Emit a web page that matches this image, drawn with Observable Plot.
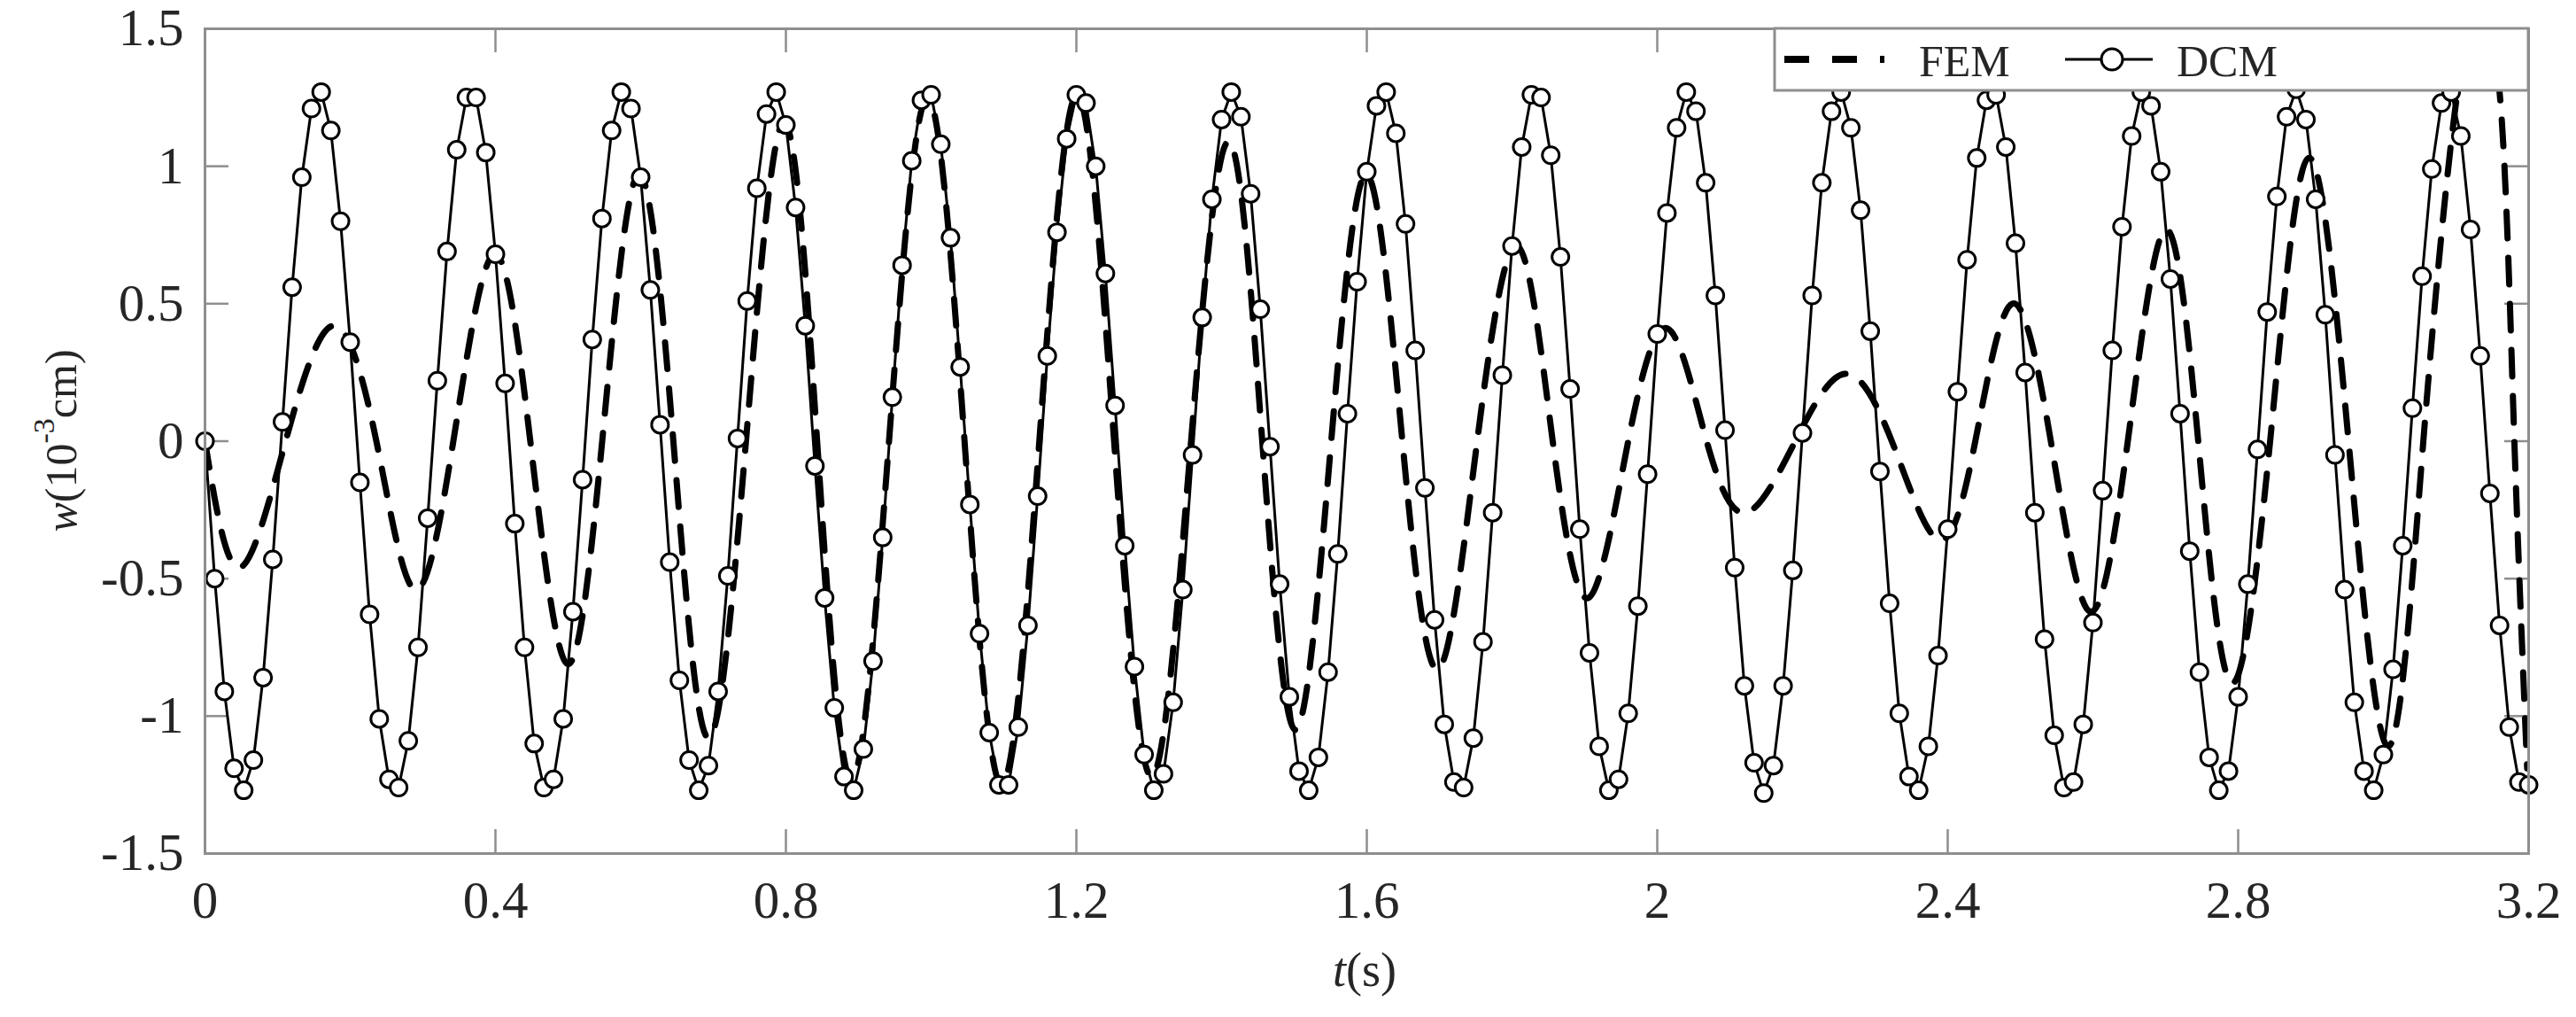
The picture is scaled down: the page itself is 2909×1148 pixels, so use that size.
<!DOCTYPE html>
<html>
<head>
<meta charset="utf-8">
<script src="https://cdn.jsdelivr.net/npm/d3@7"></script>
<script src="https://cdn.jsdelivr.net/npm/@observablehq/plot@0.6"></script>
<style>
  html, body { margin: 0; padding: 0; background: #fff; }
  #chart { width: 2909px; height: 1148px; }
</style>
</head>
<body>
<div id="chart"></div>
<script>
// ---- Data ----
const xTicks = [0, 0.4, 0.8, 1.2, 1.6, 2, 2.4, 2.8, 3.2];
const yTicks = [-1.5, -1, -0.5, 0, 0.5, 1, 1.5];

// DCM: markers every 0.01333 s (241 samples from 0 to 3.2 s)
const dcmStep = 0.0133333;
const dcmW = [
  0, -0.50, -0.91, -1.19, -1.27, -1.16, -0.86, -0.43, 0.07, 0.56, 0.96, 1.21, 1.27, 1.13, 0.80, 0.36,
  -0.15, -0.63, -1.01, -1.23, -1.26, -1.09, -0.75, -0.28, 0.22, 0.69, 1.06, 1.25, 1.25, 1.05, 0.68, 0.21,
  -0.30, -0.75, -1.10, -1.26, -1.23, -1.01, -0.62, -0.14, 0.37, 0.81, 1.13, 1.27, 1.21, 0.96, 0.55, 0.06,
  -0.44, -0.87, -1.16, -1.27, -1.18, -0.91, -0.49, 0.01, 0.51, 0.92, 1.19, 1.27, 1.15, 0.85, 0.42, -0.09,
  -0.57, -0.97, -1.22, -1.27, -1.12, -0.80, -0.35, 0.16, 0.64, 1.02, 1.24, 1.26, 1.08, 0.74, 0.27, -0.23,
  -0.70, -1.06, -1.25, -1.25, -1.04, -0.67, -0.20, 0.31, 0.76, 1.10, 1.26, 1.23, 1.00, 0.61, 0.13, -0.38,
  -0.82, -1.14, -1.27, -1.21, -0.95, -0.54, -0.05, 0.45, 0.88, 1.17, 1.27, 1.18, 0.90, 0.48, -0.02, -0.52,
  -0.93, -1.20, -1.27, -1.15, -0.84, -0.41, 0.10, 0.58, 0.98, 1.22, 1.27, 1.12, 0.79, 0.33, -0.17, -0.65,
  -1.03, -1.24, -1.26, -1.08, -0.73, -0.26, 0.24, 0.71, 1.07, 1.26, 1.25, 1.04, 0.67, 0.19, -0.32, -0.77,
  -1.11, -1.27, -1.23, -0.99, -0.60, -0.12, 0.39, 0.83, 1.14, 1.27, 1.20, 0.94, 0.53, 0.04, -0.46, -0.89,
  -1.17, -1.28, -1.18, -0.89, -0.47, 0.03, 0.53, 0.94, 1.20, 1.27, 1.14, 0.84, 0.40, -0.11, -0.59, -0.99,
  -1.22, -1.27, -1.11, -0.78, -0.32, 0.18, 0.66, 1.03, 1.24, 1.26, 1.07, 0.72, 0.25, -0.26, -0.72, -1.07,
  -1.26, -1.24, -1.03, -0.66, -0.18, 0.33, 0.78, 1.11, 1.27, 1.22, 0.98, 0.59, 0.10, -0.40, -0.84, -1.15,
  -1.27, -1.20, -0.93, -0.52, -0.03, 0.47, 0.89, 1.18, 1.28, 1.17, 0.88, 0.46, -0.05, -0.54, -0.95, -1.20,
  -1.27, -1.14, -0.83, -0.38, 0.12, 0.60, 0.99, 1.23, 1.27, 1.11, 0.77, 0.31, -0.19, -0.67, -1.04, -1.24,
  -1.25
];

// FEM: extrema and zero crossings of the dashed curve
const femT = [0, 0.047, 0.111, 0.177, 0.236, 0.289, 0.342, 0.398, 0.448, 0.499,
  0.547, 0.597, 0.645, 0.693, 0.745, 0.797, 0.843, 0.890, 0.942, 0.995,
  1.046, 1.097, 1.149, 1.201, 1.252, 1.304, 1.358, 1.410, 1.456, 1.502,
  1.551, 1.600, 1.649, 1.698, 1.752, 1.807, 1.856, 1.905, 1.960, 2.014,
  2.068, 2.122, 2.190, 2.258, 2.323, 2.388, 2.438, 2.489, 2.542, 2.596,
  2.648, 2.700, 2.745, 2.791, 2.844, 2.897, 2.952, 3.007, 3.055, 3.098,
  3.130, 3.161, 3.180, 3.198];
const femW = [0, -0.46, 0, 0.42, 0, -0.54, 0, 0.68, 0, -0.81,
  0, 0.97, 0, -1.08, 0, 1.16, 0, -1.23, 0, 1.25,
  0, -1.25, 0, 1.26, 0, -1.22, 0, 1.09, 0, -1.05,
  0, 0.97, 0, -0.83, 0, 0.71, 0, -0.57, 0, 0.41,
  0, -0.26, 0, 0.245, 0, -0.36, 0, 0.50, 0, -0.62,
  0, 0.77, 0, -0.88, 0, 1.03, 0, -1.11, 0, 1.19,
  1.55, 1.24, 0.03, -1.19];

const seriesNames = ["FEM", "DCM"];

// ---- Build tables ----
const dcm = dcmW.map((w, i) => ({t: i * dcmStep, w}));
const fem = femT.map((t, i) => ({t, w: femW[i]}));

// ---- Layout ----
const W = 2909, H = 1148;
const mL = 231, mR = 54, mT = 32, mB = 185;
const plotW = W - mL - mR, plotH = H - mT - mB;
const gray = "#8e8e8e";
const ink = "#262626";
const tickLen = 27;
const font = "'Liberation Serif', 'Times New Roman', serif";

const svg = Plot.plot({
  width: W,
  height: H,
  marginLeft: mL,
  marginRight: mR,
  marginTop: mT,
  marginBottom: mB,
  style: {fontFamily: font, background: "#fff", color: ink, overflow: "visible"},
  x: {domain: [0, 3.2], label: null},
  y: {domain: [-1.5, 1.5], label: null},
  marks: [
    Plot.axisX({ticks: xTicks, tickSize: 0, tickPadding: 31, fontSize: 59, tickFormat: d => String(d), label: null}),
    Plot.axisY({ticks: yTicks, tickSize: 0, tickPadding: 24, fontSize: 59, tickFormat: d => String(d), label: null}),
    Plot.tickX(xTicks, {x: d => d, stroke: gray, strokeWidth: 2.5, insetTop: plotH - tickLen}),
    Plot.tickX(xTicks, {x: d => d, stroke: gray, strokeWidth: 2.5, insetBottom: plotH - tickLen}),
    Plot.tickY(yTicks, {y: d => d, stroke: gray, strokeWidth: 2.5, insetRight: plotW - tickLen}),
    Plot.tickY(yTicks, {y: d => d, stroke: gray, strokeWidth: 2.5, insetLeft: plotW - tickLen}),
    Plot.line(fem, {x: "t", y: "w", curve: "natural", stroke: "#000", strokeWidth: 7,
      strokeDasharray: "30,22", clip: true}),
    Plot.line(dcm, {x: "t", y: "w", stroke: "#000", strokeWidth: 3}),
    Plot.dot(dcm, {x: "t", y: "w", r: 9.5, fill: "#fff", stroke: "#000", strokeWidth: 3}),
    Plot.frame({stroke: gray, strokeWidth: 3})
  ]
});

const root = d3.select(svg);

// x-axis title: t(s)
const xt = root.append("text")
  .attr("x", mL + plotW * (1.6 / 3.2) - 2)
  .attr("y", 1113)
  .attr("text-anchor", "middle")
  .attr("font-family", font)
  .attr("font-size", 54)
  .attr("fill", ink);
xt.append("tspan").attr("font-style", "italic").text("t");
xt.append("tspan").text("(s)");

// y-axis title: w(10^-3 cm)
const yt = root.append("text")
  .attr("transform", `translate(86, ${mT + plotH / 2}) rotate(-90)`)
  .attr("text-anchor", "middle")
  .attr("font-family", font)
  .attr("font-size", 50)
  .attr("fill", ink);
yt.append("tspan").attr("font-style", "italic").text("w");
yt.append("tspan").text("(10");
yt.append("tspan").attr("font-size", 34).attr("dy", "-0.75em").text("-3");
yt.append("tspan").attr("dy", "0.5em").text("cm)");

// Legend box (inside the frame, top-right)
const lg = root.append("g").attr("text-anchor", "start");
const lx = 2004, ly = mT, lw = W - mR - 2004, lh = 70, lcy = 67;
lg.append("rect").attr("x", lx).attr("y", ly).attr("width", lw).attr("height", lh)
  .attr("fill", "#fff").attr("stroke", gray).attr("stroke-width", 3);
lg.append("line").attr("x1", lx + 11).attr("x2", lx + 124).attr("y1", lcy).attr("y2", lcy)
  .attr("stroke", "#000").attr("stroke-width", 8).attr("stroke-dasharray", "28,26");
lg.append("text").attr("x", lx + 163).attr("y", 86).attr("text-anchor", "start")
  .attr("font-family", font).attr("font-size", 50).attr("fill", ink).text(seriesNames[0]);
lg.append("line").attr("x1", lx + 328).attr("x2", lx + 427).attr("y1", lcy).attr("y2", lcy)
  .attr("stroke", "#000").attr("stroke-width", 3);
lg.append("circle").attr("cx", lx + 381).attr("cy", lcy).attr("r", 12)
  .attr("fill", "#fff").attr("stroke", "#000").attr("stroke-width", 3);
lg.append("text").attr("x", lx + 454).attr("y", 86).attr("text-anchor", "start")
  .attr("font-family", font).attr("font-size", 50).attr("fill", ink).text(seriesNames[1]);

document.getElementById("chart").appendChild(svg);
</script>
</body>
</html>
